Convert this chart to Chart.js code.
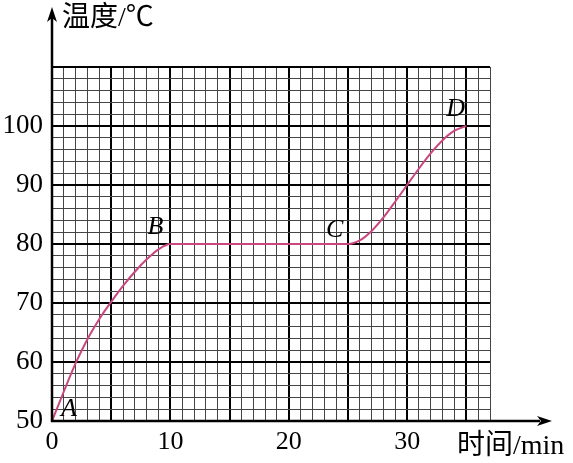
<!DOCTYPE html>
<html>
<head>
<meta charset="utf-8">
<script src="https://cdn.jsdelivr.net/npm/chart.js@4"></script>
<style>
  html, body { margin: 0; padding: 0; background: #fff; }
  #wrap { width: 573px; height: 463px; position: relative; }
</style>
</head>
<body>
<div id="wrap"><canvas id="tempChart"></canvas></div>
<script>
// data
const timeValues = [0, 1, 2, 3, 4, 5, 6, 7, 8, 9, 10, 25, 26, 27, 28, 29, 30, 31, 32, 33, 34, 35];
const tempValues = [50, 55, 59.8, 63.9, 67.3, 70.2, 72.9, 75.3, 77.4, 79.1, 80,
                    80, 80.6, 82.2, 84.5, 87.2, 90, 92.8, 95.4, 97.6, 99.2, 100];
const pointNames = ['A', 'B', 'C', 'D'];
const pointIndex = [0, 10, 11, 21];
const xTickLabels = [0, 10, 20, 30];
const yTickLabels = [50, 60, 70, 80, 90, 100];
const xTitle = '时间/min';
const yTitle = '温度/℃';

const serif = '"Liberation Serif", "Times New Roman", serif';
const mixed = '"Liberation Serif", "Noto Sans CJK SC", serif';
Chart.defaults.font.family = serif;

// axes with arrows, titles and the A B C D marks
const decorPlugin = {
    id: 'decor',
    afterDraw(chart) {
        const ctx = chart.ctx;
        const xs = chart.scales.x;
        const ys = chart.scales.y;
        const x0 = xs.getPixelForValue(0);
        const y0 = ys.getPixelForValue(50);

        ctx.save();
        ctx.strokeStyle = '#000';
        ctx.fillStyle = '#000';
        ctx.lineWidth = 2.5;
        ctx.beginPath();
        ctx.moveTo(x0, y0 + 1);
        ctx.lineTo(x0, 16);
        ctx.moveTo(x0 - 1, y0);
        ctx.lineTo(540, y0);
        ctx.stroke();

        // arrow heads
        ctx.beginPath();
        ctx.moveTo(x0, 7);
        ctx.lineTo(x0 - 5, 22);
        ctx.lineTo(x0, 18);
        ctx.lineTo(x0 + 5, 22);
        ctx.closePath();
        ctx.fill();
        ctx.beginPath();
        ctx.moveTo(552, y0);
        ctx.lineTo(537, y0 - 5);
        ctx.lineTo(541, y0);
        ctx.lineTo(537, y0 + 5);
        ctx.closePath();
        ctx.fill();

        // axis titles
        ctx.font = '28px ' + mixed;
        ctx.textBaseline = 'middle';
        ctx.textAlign = 'left';
        ctx.fillText(yTitle, x0 + 10, 19);
        ctx.fillText(xTitle, 457, y0 + 26);

        // point names
        ctx.font = 'italic 26px ' + serif;
        const offsets = [[9, -12], [-23, -17], [-22, -14], [-20, -17]];
        pointNames.forEach((name, i) => {
            const k = pointIndex[i];
            const px = xs.getPixelForValue(timeValues[k]);
            const py = ys.getPixelForValue(tempValues[k]);
            ctx.fillText(name, px + offsets[i][0], py + offsets[i][1]);
        });
        ctx.restore();
    }
};

const ctx = document.getElementById('tempChart').getContext('2d');
const tempChart = new Chart(ctx, {
    type: 'line',
    data: {
        datasets: [{
            data: timeValues.map((t, i) => ({ x: t, y: tempValues[i] })),
            borderColor: '#c9467f',
            borderWidth: 2,
            pointRadius: 0,
            cubicInterpolationMode: 'monotone',
            fill: false
        }]
    },
    options: {
        responsive: true,
        maintainAspectRatio: false,
        animation: false,
        layout: { padding: { top: 67, right: 83, left: 0, bottom: 0 } },
        plugins: {
            legend: { display: false },
            tooltip: { enabled: false }
        },
        scales: {
            x: {
                type: 'linear',
                min: 0,
                max: 37,
                afterFit: (scale) => { scale.height = 42; },
                border: { display: false },
                grid: {
                    drawTicks: false,
                    color: (c) => (c.tick && c.tick.value % 5 === 0) ? '#000' : '#444',
                    lineWidth: (c) => (c.tick && c.tick.value % 5 === 0) ? 2 : 1
                },
                ticks: {
                    stepSize: 1,
                    autoSkip: false,
                    maxRotation: 0,
                    padding: 6,
                    color: '#000',
                    font: { family: serif, size: 26 },
                    callback: (v) => xTickLabels.includes(v) ? String(v) : ''
                }
            },
            y: {
                min: 50,
                max: 110,
                afterFit: (scale) => { scale.width = 52; },
                border: { display: false },
                grid: {
                    drawTicks: false,
                    color: (c) => (c.tick && c.tick.value % 10 === 0) ? '#000' : '#444',
                    lineWidth: (c) => (c.tick && c.tick.value % 10 === 0) ? 2 : 1
                },
                ticks: {
                    stepSize: 2,
                    autoSkip: false,
                    padding: 9,
                    color: '#000',
                    font: { family: serif, size: 27 },
                    callback: (v) => yTickLabels.includes(v) ? String(v) : ''
                }
            }
        }
    },
    plugins: [decorPlugin]
});
</script>
</body>
</html>
